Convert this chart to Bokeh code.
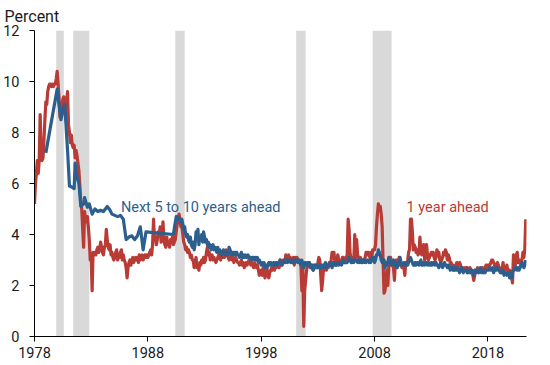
from bokeh.plotting import figure
from bokeh.models import FixedTicker, Label
from bokeh.embed import file_html
from bokeh.resources import INLINE

RED = "#b83b36"
BLUE = "#2c5f8e"
GRAY = "#d9d9d9"

# ---- data ----
x_ticks = [1978, 1988, 1998, 2008, 2018]
y_ticks = [0, 2, 4, 6, 8, 10, 12]

# recessions (first month, last month)
rec_first = ["1979-12", "1981-06", "1990-06", "2001-02", "2007-11"]
rec_last = ["1980-07", "1982-10", "1991-03", "2001-11", "2009-06"]

# 1 year ahead expected inflation, monthly from Jan 1978
red_start = "1978-01"
red_1yr = [
    5.2, 6.0, 6.4, 6.9, 6.4, 6.9, 8.7, 7.2, 6.9, 7.0, 7.7, 8.5,   # 1978
    9.2, 9.1, 9.6, 9.8, 9.9, 9.9, 9.8, 9.9, 9.8, 9.9, 9.9, 10.1,  # 1979
    10.4, 9.9, 9.3, 8.6, 9.1, 9.0, 9.3, 9.4, 9.1, 8.5, 9.2, 9.6,  # 1980
    8.3, 8.0, 7.6, 7.9, 7.5, 7.4, 7.5, 7.0, 7.3, 7.1, 6.8, 6.5,   # 1981
    5.9, 5.3, 5.0, 4.2, 3.5, 4.9, 4.6, 4.5, 4.7, 4.3, 3.8, 3.0,   # 1982
    3.1, 1.8, 3.3, 3.2, 3.3, 3.2, 3.4, 3.5, 3.3, 3.4, 3.7, 3.5,   # 1983
    3.3, 3.2, 3.5, 3.6, 4.2, 3.8, 3.5, 3.4, 3.6, 3.2, 3.3, 3.1,   # 1984
    3.0, 3.1, 3.3, 3.4, 3.0, 3.2, 3.1, 3.3, 3.4, 3.0, 3.2, 3.0,   # 1985
    2.9, 2.7, 2.3, 2.7, 2.9, 3.0, 2.8, 3.0, 3.1, 2.9, 3.0, 3.1,   # 1986
    3.0, 3.1, 2.9, 3.2, 3.0, 3.1, 3.2, 3.0, 3.1, 3.2, 3.1, 3.2,   # 1987
    3.1, 3.2, 3.3, 3.4, 3.2, 3.6, 4.6, 3.8, 3.9, 3.6, 3.8, 4.1,   # 1988
    4.0, 4.3, 3.7, 3.9, 4.5, 3.8, 3.6, 3.5, 3.9, 3.6, 3.7, 3.5,   # 1989
    3.8, 3.7, 3.9, 3.6, 3.7, 3.8, 4.1, 4.4, 4.5, 4.8, 4.6, 4.3,   # 1990
    4.3, 4.0, 3.7, 3.6, 3.4, 3.5, 3.3, 3.4, 3.3, 3.1, 3.2, 3.0,   # 1991
    3.0, 2.7, 2.9, 3.1, 2.7, 2.8, 2.6, 2.9, 2.8, 3.0, 2.9, 3.1,   # 1992
    2.9, 3.0, 3.3, 3.5, 3.2, 3.3, 3.0, 3.1, 3.2, 3.0, 3.1, 3.0,   # 1993
    2.9, 3.0, 3.1, 3.2, 3.1, 3.0, 3.2, 3.1, 3.3, 3.1, 3.2, 3.4,   # 1994
    3.2, 3.1, 3.0, 3.1, 3.2, 3.0, 3.1, 2.9, 3.0, 3.1, 3.0, 2.9,   # 1995
    2.9, 2.8, 2.9, 3.0, 2.8, 2.9, 2.7, 2.8, 2.9, 2.8, 2.9, 3.0,   # 1996
    2.9, 2.8, 2.9, 2.8, 2.7, 2.9, 2.8, 2.7, 2.8, 2.6, 2.4, 2.5,   # 1997
    2.6, 2.4, 2.7, 2.5, 2.3, 2.6, 2.7, 2.4, 2.3, 2.5, 2.6, 2.7,   # 1998
    2.6, 2.7, 2.6, 2.8, 2.7, 2.9, 2.8, 2.7, 3.0, 2.9, 2.8, 3.0,   # 1999
    3.0, 2.9, 3.2, 3.0, 3.1, 3.2, 3.0, 3.1, 2.9, 3.0, 3.1, 2.8,   # 2000
    3.1, 3.0, 3.1, 2.9, 3.0, 2.9, 2.8, 1.8, 2.7, 0.4, 1.8, 2.2,   # 2001
    2.6, 2.8, 2.9, 2.8, 2.7, 2.8, 2.7, 2.6, 2.8, 2.7, 2.8, 2.7,   # 2002
    2.9, 3.1, 3.0, 2.4, 1.8, 2.2, 2.7, 2.6, 2.7, 2.6, 2.8, 2.7,   # 2003
    2.9, 2.8, 3.0, 3.3, 3.2, 3.3, 2.9, 2.8, 2.9, 3.2, 3.0, 2.9,   # 2004
    2.9, 3.0, 3.1, 3.1, 2.9, 3.0, 3.1, 3.2, 4.6, 4.2, 3.3, 3.0,   # 2005
    3.0, 3.1, 3.0, 4.0, 3.1, 3.8, 3.2, 3.1, 3.0, 3.1, 2.9, 3.0,   # 2006
    3.0, 3.0, 3.1, 3.3, 3.2, 3.3, 3.2, 3.1, 3.3, 3.1, 3.4, 3.4,   # 2007
    3.4, 3.6, 4.3, 4.8, 5.2, 5.1, 5.1, 4.8, 4.3, 2.9, 1.7, 1.8,   # 2008
    2.1, 2.6, 2.0, 2.7, 3.1, 3.1, 2.8, 2.8, 2.7, 2.2, 2.9, 3.0,   # 2009
    2.8, 2.9, 3.1, 2.9, 2.8, 2.7, 2.8, 2.7, 2.4, 2.9, 2.8, 3.0,   # 2010
    3.3, 3.4, 4.6, 4.6, 4.1, 3.4, 3.6, 3.5, 3.3, 3.4, 3.2, 3.3,   # 2011
    3.9, 3.3, 3.2, 3.3, 3.6, 3.0, 3.1, 3.6, 3.2, 3.0, 3.1, 3.2,   # 2012
    3.3, 3.2, 3.3, 3.1, 3.0, 3.1, 3.4, 3.2, 3.3, 3.0, 2.9, 3.0,   # 2013
    3.1, 3.3, 3.2, 3.4, 3.3, 3.0, 3.2, 3.1, 2.9, 2.9, 2.8, 2.8,   # 2014
    2.6, 2.7, 2.8, 2.9, 2.8, 2.8, 2.9, 2.8, 2.6, 2.7, 2.6, 2.7,   # 2015
    2.6, 2.7, 2.7, 2.5, 2.6, 2.7, 2.6, 2.5, 2.4, 2.2, 2.4, 2.6,   # 2016
    2.6, 2.7, 2.5, 2.6, 2.6, 2.6, 2.7, 2.6, 2.7, 2.7, 2.8, 2.7,   # 2017
    2.8, 2.7, 2.8, 2.9, 3.0, 3.0, 2.9, 2.8, 2.7, 2.8, 2.9, 2.8,   # 2018
    2.7, 2.6, 2.5, 2.6, 2.9, 2.6, 2.7, 2.6, 2.8, 2.6, 2.5, 2.6,   # 2019
    2.4, 2.3, 2.1, 3.2, 3.1, 2.8, 3.2, 3.3, 2.9, 3.0, 2.9, 2.8,   # 2020
    3.0, 3.3, 3.1, 3.4, 4.6,                                      # 2021
]

# next 5 to 10 years ahead: irregular survey months before 1991
blue_early_months = [
    "1979-01", "1980-01", "1980-03", "1980-05", "1980-07", "1980-09", "1980-10",
    "1980-12", "1981-02", "1981-05", "1981-07", "1981-08", "1981-10", "1981-12",
    "1982-02", "1982-05", "1982-06", "1982-09", "1982-11", "1983-02", "1983-05",
    "1983-08", "1983-11", "1984-02", "1984-06", "1984-09", "1984-11", "1985-02",
    "1985-05", "1985-08", "1985-11", "1986-02", "1986-05", "1986-08", "1986-11",
    "1987-02", "1987-05", "1987-08", "1987-11", "1990-04", "1990-07", "1990-08",
    "1990-09", "1990-10", "1990-11", "1990-12",
]
blue_early_values = [
    7.2, 9.7, 9.1, 8.5, 8.9, 9.1, 8.5,
    7.3, 5.9, 5.85, 5.8, 6.8, 6.25, 6.0,
    5.1, 5.2, 5.45, 5.07, 5.2, 4.8, 5.0,
    4.9, 4.95, 4.9, 5.1, 4.95, 4.8, 4.75,
    4.7, 4.75, 4.6, 3.8, 3.9, 3.95, 3.8,
    3.95, 4.3, 3.4, 4.1, 4.0, 4.7, 4.6,
    4.7, 4.6, 4.6, 4.5,
]
# monthly from Jan 1991
blue_start = "1991-01"
blue_5to10 = [
    4.6, 4.4, 4.2, 4.3, 4.0, 3.9, 4.0, 3.8, 3.7, 3.9, 3.6, 3.5,   # 1991
    3.7, 3.4, 3.6, 4.1, 3.9, 4.2, 3.6, 3.9, 3.8, 4.0, 3.7, 4.1,   # 1992
    3.9, 3.7, 3.8, 3.6, 3.7, 3.5, 3.6, 3.4, 3.5, 3.6, 3.4, 3.5,   # 1993
    3.4, 3.3, 3.5, 3.3, 3.4, 3.3, 3.2, 3.3, 3.4, 3.3, 3.2, 3.3,   # 1994
    3.3, 3.2, 3.5, 3.4, 3.3, 3.2, 3.3, 3.2, 3.3, 3.2, 3.3, 3.2,   # 1995
    3.2, 3.1, 3.2, 3.3, 3.1, 3.2, 3.1, 3.2, 3.1, 3.1, 3.2, 3.1,   # 1996
    3.1, 3.1, 3.0, 3.1, 3.1, 3.0, 3.1, 3.0, 3.1, 2.9, 3.0, 2.9,   # 1997
    2.8, 2.9, 2.8, 2.9, 2.7, 2.8, 2.7, 2.8, 2.9, 2.8, 2.9, 2.8,   # 1998
    2.8, 2.9, 2.8, 2.9, 2.9, 2.8, 2.9, 2.9, 3.0, 2.9, 2.8, 2.9,   # 1999
    2.9, 3.0, 2.9, 3.0, 2.9, 3.0, 3.0, 2.9, 3.0, 2.9, 2.9, 3.0,   # 2000
    2.9, 3.0, 3.0, 2.9, 3.0, 2.9, 2.8, 3.0, 2.8, 2.7, 2.9, 2.9,   # 2001
    2.8, 2.9, 2.8, 2.9, 2.8, 2.7, 2.8, 2.6, 2.7, 2.8, 2.7, 2.8,   # 2002
    2.7, 2.8, 2.7, 2.8, 2.7, 2.8, 2.7, 2.8, 2.9, 2.7, 2.8, 2.8,   # 2003
    2.8, 2.9, 2.8, 2.7, 2.9, 2.8, 2.8, 2.9, 2.8, 2.9, 2.8, 2.9,   # 2004
    2.9, 2.8, 2.9, 3.0, 2.9, 2.9, 2.9, 2.9, 3.0, 3.1, 3.0, 2.9,   # 2005
    2.9, 3.0, 2.9, 3.0, 3.0, 3.0, 2.9, 3.0, 2.9, 3.0, 2.9, 2.9,   # 2006
    3.0, 2.9, 3.0, 2.9, 3.0, 3.0, 2.9, 3.0, 2.9, 3.0, 3.1, 3.1,   # 2007
    2.9, 3.0, 3.2, 3.2, 3.4, 3.3, 3.2, 3.0, 2.9, 2.9, 3.0, 2.7,   # 2008
    2.9, 2.8, 2.9, 3.1, 2.9, 2.9, 2.8, 2.9, 3.0, 2.8, 2.9, 2.8,   # 2009
    2.7, 2.9, 2.8, 3.1, 2.9, 2.8, 2.8, 2.9, 2.8, 2.8, 2.9, 2.8,   # 2010
    2.9, 3.0, 3.1, 3.0, 2.9, 2.8, 2.8, 2.9, 2.8, 2.9, 2.9, 2.8,   # 2011
    2.9, 3.0, 2.8, 2.8, 2.9, 2.8, 2.9, 2.9, 2.8, 2.9, 2.8, 2.8,   # 2012
    2.9, 2.8, 2.9, 2.9, 2.8, 2.9, 2.8, 2.8, 2.7, 2.8, 2.9, 2.8,   # 2013
    2.7, 2.8, 2.9, 2.8, 2.8, 2.7, 2.8, 2.8, 2.6, 2.7, 2.7, 2.6,   # 2014
    2.7, 2.6, 2.7, 2.6, 2.7, 2.6, 2.5, 2.6, 2.7, 2.6, 2.5, 2.6,   # 2015
    2.6, 2.6, 2.5, 2.6, 2.6, 2.5, 2.6, 2.6, 2.5, 2.4, 2.6, 2.5,   # 2016
    2.6, 2.6, 2.5, 2.6, 2.7, 2.5, 2.6, 2.5, 2.6, 2.5, 2.6, 2.6,   # 2017
    2.6, 2.6, 2.7, 2.6, 2.6, 2.7, 2.5, 2.6, 2.7, 2.6, 2.7, 2.6,   # 2018
    2.6, 2.5, 2.5, 2.5, 2.6, 2.4, 2.5, 2.5, 2.4, 2.5, 2.5, 2.3,   # 2019
    2.5, 2.3, 2.5, 2.6, 2.6, 2.7, 2.7, 2.6, 2.7, 2.6, 2.7, 2.8,   # 2020
    2.9, 2.8, 2.7, 2.8, 3.0,                                      # 2021
]


def ym(s):
    y, m = s.split("-")
    return int(y) + (int(m) - 1) / 12.0


def monthly(start, n):
    s = ym(start)
    return [s + i / 12.0 for i in range(n)]


red_x = monthly(red_start, len(red_1yr))
blue_x = [ym(s) for s in blue_early_months] + monthly(blue_start, len(blue_5to10))
blue_y = blue_early_values + blue_5to10
rec_left = [ym(s) for s in rec_first]
rec_right = [ym(s) + 1 / 12.0 for s in rec_last]

p = figure(
    width=550, height=365,
    x_range=(1978, 2021.4), y_range=(0, 12),
    output_backend="svg", toolbar_location=None,
    min_border_left=34, min_border_right=24,
    min_border_top=30, min_border_bottom=29,
)
p.outline_line_color = None
p.xgrid.visible = False
p.ygrid.visible = False
p.background_fill_color = "white"
p.border_fill_color = "white"

p.title.text = "Percent"
p.title.align = "left"
p.title.offset = -30
p.title.standoff = 9
p.title.text_font = "Roboto"
p.title.text_font_size = "16px"
p.title.text_font_style = "normal"
p.title.text_color = "#1a1a1a"

p.quad(left=rec_left, right=rec_right, bottom=0, top=12,
       fill_color=GRAY, line_color=None)

p.line(red_x, red_1yr, line_color=RED, line_width=3.2, line_join="round")
p.line(blue_x, blue_y, line_color=BLUE, line_width=3.2, line_join="round")

for ax in (p.xaxis[0], p.yaxis[0]):
    ax.axis_line_color = "black"
    ax.axis_line_width = 1
    ax.major_tick_line_color = "black"
    ax.major_tick_out = 5
    ax.major_tick_in = 0
    ax.minor_tick_out = 0
    ax.minor_tick_in = 0
    ax.major_label_text_font = "Roboto"
    ax.major_label_text_font_size = "14.5px"
    ax.major_label_text_color = "#1a1a1a"

p.xaxis.ticker = FixedTicker(ticks=x_ticks)
p.yaxis.ticker = FixedTicker(ticks=y_ticks)
p.xaxis.major_label_standoff = 5
p.yaxis.major_label_standoff = 10

p.add_layout(Label(x=1985.62, y=5.06, text="Next 5 to 10 years ahead",
                   text_font="Roboto", text_font_size="14.5px",
                   text_color=BLUE, text_baseline="alphabetic"))
p.add_layout(Label(x=2010.82, y=5.06, text="1 year ahead",
                   text_font="Roboto", text_font_size="14.5px",
                   text_color=RED, text_baseline="alphabetic"))

open("out.html", "w").write(file_html(p, INLINE))
